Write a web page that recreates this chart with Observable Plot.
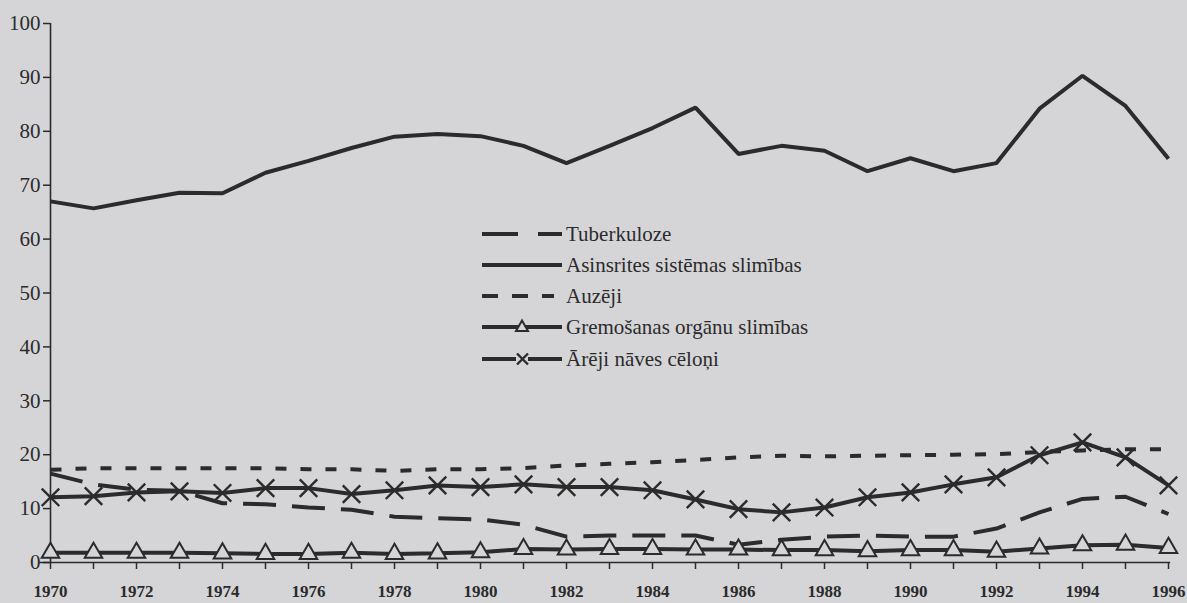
<!DOCTYPE html>
<html><head><meta charset="utf-8">
<script src="https://cdn.jsdelivr.net/npm/d3@7"></script>
<script src="https://cdn.jsdelivr.net/npm/@observablehq/plot@0.6"></script>
<style>
html,body{margin:0;padding:0;background:#d5d5d8;}
#wrap{position:relative;width:1187px;height:603px;overflow:hidden;}
#legend{position:absolute;left:0;top:0;width:1187px;height:603px;font-family:"Liberation Serif",serif;font-size:21px;color:#2b2b2b;pointer-events:none;}
.row{position:absolute;left:482px;display:flex;align-items:center;height:24px;white-space:nowrap;}
.row svg{display:block;margin-right:2px;}
</style></head><body><div id="wrap"><div id="legend"></div></div>
<script>
const years = [1970,1971,1972,1973,1974,1975,1976,1977,1978,1979,1980,1981,1982,1983,1984,1985,1986,1987,1988,1989,1990,1991,1992,1993,1994,1995,1996];
const tuberkuloze = [16.5,14.5,13.5,13.3,11,10.8,10.2,9.8,8.5,8.2,8,7,4.8,5,5,5,3.3,4.2,4.8,5,4.8,4.8,6.3,9.3,11.8,12.2,9];
const asinsrites  = [67,65.7,67.2,68.6,68.5,72.3,74.5,76.9,79,79.5,79.1,77.3,74.1,77.3,80.6,84.4,75.8,77.3,76.4,72.6,75,72.6,74.1,84.2,90.3,84.7,74.9];
const auzeji      = [17.2,17.5,17.5,17.5,17.5,17.5,17.3,17.3,17,17.3,17.3,17.5,18,18.3,18.6,19,19.5,19.8,19.7,19.8,19.9,20,20.1,20.5,20.8,21,21];
const gremosanas  = [1.8,1.8,1.8,1.8,1.7,1.6,1.6,1.8,1.6,1.7,1.9,2.5,2.4,2.5,2.5,2.4,2.4,2.3,2.3,2.1,2.3,2.3,2.0,2.6,3.2,3.3,2.7];
const areji       = [12.1,12.3,13,13.2,12.9,13.8,13.8,12.7,13.4,14.3,14,14.5,14,14,13.4,11.7,9.9,9.3,10.2,12.1,13,14.5,15.8,19.9,22.3,19.5,14.3];
const seriesNames = ["Tuberkuloze","Asinsrites sistēmas slimības","Auzēji","Gremošanas orgānu slimības","Ārēji nāves cēloņi"];
const yTicks = [0,10,20,30,40,50,60,70,80,90,100];

const ink = "#2b2b2b";
const bg = "#d5d5d8";
const styles = {
  "Tuberkuloze": {dash: "33,16", marker: null},
  "Asinsrites sistēmas slimības": {dash: null, marker: null},
  "Auzēji": {dash: "11,14", marker: null},
  "Gremošanas orgānu slimības": {dash: null, marker: "triangle"},
  "Ārēji nāves cēloņi": {dash: null, marker: "times"}
};
const valuesBySeries = [tuberkuloze, asinsrites, auzeji, gremosanas, areji];
const table = seriesNames.map((name, i) => years.map((year, j) => ({series: name, year, value: valuesBySeries[i][j]})));

const marks = [
  Plot.ruleY([0], {x1: 1969.75, x2: 1996.05, stroke: ink, strokeWidth: 1.6}),
  Plot.ruleX([1970], {y1: 0, y2: 100, stroke: ink, strokeWidth: 1.6}),
  Plot.axisY({ticks: yTicks, tickSize: 7, tickPadding: 3, fontSize: 21, strokeWidth: 1.5, label: null, tickFormat: d => String(d)}),
  Plot.axisX({ticks: years, tickSize: 7, tickPadding: 15, fontSize: 17, fontWeight: "bold", strokeWidth: 1.5, label: null, tickFormat: d => d % 2 ? "" : String(d)})
];
table.forEach((rows, i) => {
  const st = styles[seriesNames[i]];
  marks.push(Plot.line(rows, {x: "year", y: "value", stroke: ink, strokeWidth: 4, strokeDasharray: st.dash || undefined, strokeLinejoin: "miter", strokeLinecap: "butt"}));
});
table.forEach((rows, i) => {
  const st = styles[seriesNames[i]];
  if (st.marker === "triangle") marks.push(Plot.dot(rows, {x: "year", y: "value", symbol: "triangle", r: 6.5, fill: bg, stroke: ink, strokeWidth: 2}));
  if (st.marker === "times") marks.push(Plot.dot(rows, {x: "year", y: "value", symbol: "times", r: 8, stroke: ink, strokeWidth: 2.4}));
});

const chart = Plot.plot({
  width: 1187, height: 603,
  marginLeft: 50, marginRight: 19, marginTop: 23, marginBottom: 41,
  x: {domain: [1970, 1996]},
  y: {domain: [0, 100]},
  style: {background: "transparent", fontFamily: "'Liberation Serif', serif", color: ink},
  marks
});
document.getElementById("wrap").prepend(chart);

// legend
const legendTops = [234, 265, 296, 327, 359];
const leg = document.getElementById("legend");
seriesNames.forEach((name, i) => {
  const st = styles[name];
  const row = document.createElement("div");
  row.className = "row";
  row.style.top = (legendTops[i] - 12) + "px";
  let svg = `<svg width="82" height="24" viewBox="0 0 82 24">`;
  if (name === "Tuberkuloze") {
    svg += `<line x1="0" y1="12" x2="80" y2="12" stroke="${ink}" stroke-width="4" stroke-dasharray="36,20"/>`;
  } else if (st.dash) {
    svg += `<line x1="0" y1="12" x2="72" y2="12" stroke="${ink}" stroke-width="4" stroke-dasharray="16,14"/>`;
  } else {
    svg += `<line x1="0" y1="12" x2="80" y2="12" stroke="${ink}" stroke-width="4"/>`;
  }
  if (st.marker === "triangle") svg += `<path d="M40,5.5 L46,16 L34,16 Z" fill="${bg}" stroke="${ink}" stroke-width="2"/>`;
  if (st.marker === "times") svg += `<rect x="34" y="4" width="12" height="16" fill="${bg}"/><path d="M35,6.5 L46,17.5 M46,6.5 L35,17.5" stroke="${ink}" stroke-width="2.4"/>`;
  svg += `</svg>`;
  row.innerHTML = svg + `<span>${name}</span>`;
  leg.appendChild(row);
});
</script>
</body></html>
